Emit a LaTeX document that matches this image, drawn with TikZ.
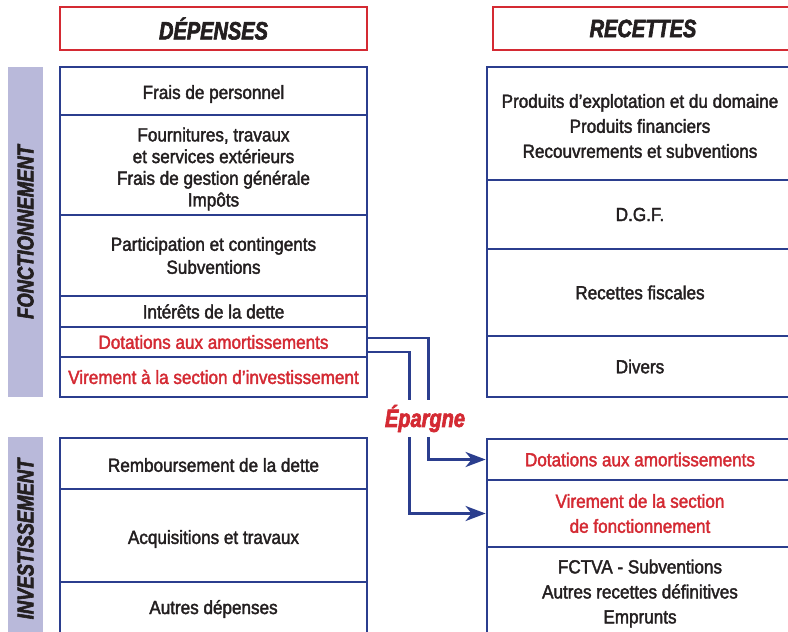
\documentclass[tikz,border=0pt]{standalone}
\usepackage{fontspec}
\setmainfont[FakeStretch=0.9,FakeBold=2]{Liberation Sans}
\newfontfamily\hfont[FakeStretch=0.8,FakeBold=2.5]{Liberation Sans}
\usetikzlibrary{arrows.meta,calc}
\definecolor{navy}{HTML}{2B3E8E}
\definecolor{myred}{HTML}{D42A33}
\definecolor{lav}{HTML}{B9B9DA}
\definecolor{ink}{HTML}{231F20}
\tikzset{
  cell/.style={draw=navy,line width=2.8pt,minimum width=307pt,inner sep=0pt,align=center,text=ink,font=\fontsize{19}{21.7}\selectfont},
  rcell/.style={cell,minimum width=306pt,font=\fontsize{19}{25}\selectfont},
  redtxt/.style={text=myred},
  head/.style={draw=myred,line width=2.8pt,minimum width=307pt,minimum height=43pt,inner sep=0pt,text=ink,font=\hfont\bfseries\itshape\fontsize{25}{28}\selectfont},
  side/.style={fill=lav,inner sep=0pt,text=ink,font=\hfont\bfseries\itshape\fontsize{23}{26}\selectfont,rotate=90},
  conn/.style={draw=navy,line width=2.8pt},
  arr/.style={conn,-{Stealth[length=20pt,width=15pt,inset=6pt]}},
  dn/.style={label={[text=ink,font=\fontsize{19}{21.7}\selectfont,align=center]center:{#1}}}
}
\begin{document}
\begin{tikzpicture}[x=1pt,y=-1pt]
\useasboundingbox (0,0) rectangle (788,632);
\begin{scope}
\clip (0,0) rectangle (788,632);
% headers
\node[head] (hd) at (213.5,28.5) {DÉPENSES};
\node[head,minimum width=300pt] (hr) at (643,28.5) {RECETTES};
% sidebars
\node[side,minimum width=330pt,minimum height=35pt] (sf) at (25.5,232) {FONCTIONNEMENT};
\node[side,minimum width=204pt,minimum height=35pt] (si) at (25.5,539) {INVESTISSEMENT};
% left fonctionnement
\node[cell,minimum height=48pt] (l1) at (213.5,91) {};
\node[text=ink,font=\fontsize{19}{21.7}\selectfont] (t1) at (213.5,94) {Frais de personnel};
\node[cell,minimum height=100pt] (l2) at (213.5,165) {};
\node[text=ink,font=\fontsize{19}{21.7}\selectfont,align=center] (t2) at (213.5,169) {Fournitures, travaux\\et services extérieurs\\Frais de gestion générale\\Impôts};
\node[cell,minimum height=81pt,font=\fontsize{19}{23}\selectfont] (l3) at (213.5,255.5) {Participation et contingents\\Subventions};
\node[cell,minimum height=31pt] (l4) at (213.5,311.5) {Intérêts de la dette};
\node[cell,redtxt,minimum height=30pt] (l5) at (213.5,342) {Dotations aux amortissements};
\node[cell,redtxt,minimum height=40pt] (l6) at (213.5,377) {Virement à la section d’investissement};
% left investissement
\node[cell,minimum height=51pt] (i1) at (213.5,463.5) {};
\node[text=ink,font=\fontsize{19}{21.7}\selectfont] (u1) at (213.5,465) {Remboursement de la dette};
\node[cell,minimum height=93pt] (i2) at (213.5,535.5) {};
\node[text=ink,font=\fontsize{19}{21.7}\selectfont] (u2) at (213.5,539) {Acquisitions et travaux};
\node[cell,minimum height=54pt] (i3) at (213.5,609) {Autres dépenses};
% right fonctionnement
\node[rcell,minimum height=113pt] (r1) at (640,123.5) {};
\node[text=ink,font=\fontsize{19}{25}\selectfont,align=center] (v1) at (640,126) {Produits d’explotation et du domaine\\Produits financiers\\Recouvrements et subventions};
\node[rcell,minimum height=69pt] (r2) at (640,214.5) {D.G.F.};
\node[rcell,minimum height=87pt] (r3) at (640,292.5) {Recettes fiscales};
\node[rcell,minimum height=61pt] (r4) at (640,366.5) {Divers};
% right investissement
\node[rcell,redtxt,minimum height=41pt] (s1) at (640,459.5) {Dotations aux amortissements};
\node[rcell,redtxt,minimum height=67pt] (s2) at (640,513.5) {Virement de la section\\de fonctionnement};
\node[rcell,minimum height=93pt] (s3) at (640,593.5) {FCTVA - Subventions\\Autres recettes définitives\\Emprunts};
% connectors
\draw[arr] ($(l5.east)+(0,-4)$) -| ($(s1.west)+(-57,0)$) -- (s1.west);
\draw[arr] ($(l5.east)+(0,10)$) -| ($(s2.west)+(-76,0)$) -- (s2.west);
\node[fill=white,text=myred,inner xsep=3pt,inner ysep=0pt,minimum height=37pt,font=\hfont\bfseries\itshape\fontsize{25}{28}\selectfont] (ep) at (425,418.5) {Épargne};
\end{scope}
\end{tikzpicture}
\end{document}
